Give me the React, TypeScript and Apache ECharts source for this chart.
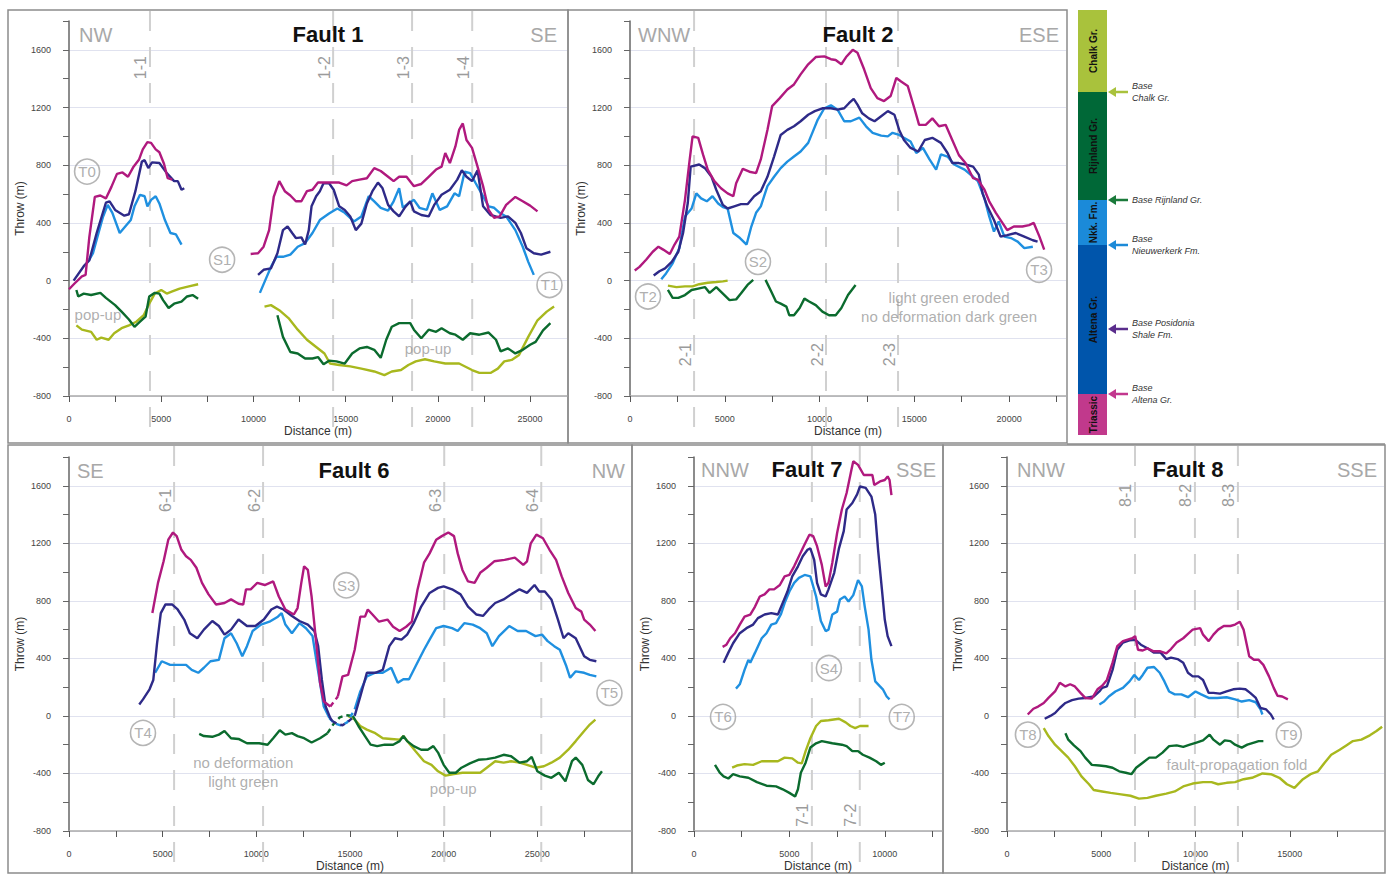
import React, { useEffect, useRef } from 'react';
import * as echarts from 'echarts';

const FONT = '"Liberation Sans", Arial, Helvetica, sans-serif';

// ---------- colours of the horizons ----------
const C_ALTENA = '#b0197e';
const C_POSIDONIA = '#2e2a88';
const C_NIEUWERKERK = '#1f90e0';
const C_RIJNLAND = '#0b6b2e';
const C_CHALK = '#a8b81e';

// ---------- Fault 1 ----------
const F1_ALTENA_A = [[0,-60],[300,-20],[700,30],[900,40],[1100,300],[1400,580],[1700,590],[2000,570],[2300,650],[2600,740],[2900,750],[3200,720],[3500,790],[3800,840],[4000,910],[4250,960],[4450,955],[4700,910],[4900,890],[5150,810],[5350,710],[5600,700]];
const F1_ALTENA_B = [[9850,185],[10250,190],[10550,235],[10850,350],[11100,580],[11400,690],[11700,620],[12000,590],[12300,550],[12600,550],[12900,620],[13200,630],[13500,680],[13900,680],[14300,680],[14650,680],[15050,660],[15350,690],[15750,700],[16150,710],[16550,780],[16900,760],[17300,720],[17600,690],[17900,720],[18300,720],[18700,655],[19100,670],[19500,720],[19900,770],[20200,790],[20400,885],[20650,815],[20950,930],[21150,1045],[21350,1090],[21550,975],[21850,920],[22150,790],[22450,655],[22750,490],[23050,435],[23350,445],[23700,525],[24200,580],[24600,550],[25000,520],[25400,480]];
const F1_POSIDONIA_A = [[250,0],[800,100],[1100,140],[1500,330],[2000,540],[2200,550],[2500,490],[3000,450],[3250,460],[3600,620],[3950,825],[4100,835],[4300,780],[4500,820],[4900,815],[5300,745],[5700,690],[5900,690],[6100,630],[6250,640]];
const F1_POSIDONIA_B = [[10250,40],[10550,75],[10950,85],[11300,190],[11600,350],[11850,375],[12100,330],[12300,295],[12600,300],[12800,250],[13000,350],[13150,515],[13400,585],[13600,620],[13800,675],[14100,675],[14350,630],[14650,515],[14950,490],[15250,445],[15550,350],[15850,395],[16150,535],[16450,620],[16750,680],[17000,640],[17300,525],[17600,480],[17900,445],[18200,505],[18500,550],[18700,480],[19100,455],[19500,445],[19800,525],[20200,595],[20650,630],[21050,700],[21300,765],[21550,720],[21850,690],[22150,765],[22450,515],[22850,455],[23400,435],[23800,445],[24200,400],[24500,330],[24800,225],[25200,190],[25600,180],[26100,200]];
const F1_NIEUWERKERK_A = [[1100,145],[1300,190],[1600,330],[1850,445],[2100,525],[2350,470],[2750,330],[3050,375],[3350,420],[3550,515],[3850,595],[4100,585],[4250,515],[4450,560],[4700,585],[4900,535],[5200,420],[5500,330],[5800,320],[6100,250]];
const F1_NIEUWERKERK_B = [[10350,-85],[10650,5],[10950,95],[11250,165],[11600,165],[12000,180],[12400,235],[12800,260],[13200,330],[13600,420],[14100,465],[14550,500],[14950,470],[15450,410],[15850,445],[16250,585],[16550,550],[16900,505],[17300,485],[17600,550],[17900,640],[18100,505],[18400,535],[18700,560],[19000,505],[19400,490],[19700,605],[20100,490],[20500,515],[20900,605],[21150,585],[21450,755],[21750,745],[22050,675],[22450,585],[22750,515],[23050,505],[23350,470],[23700,445],[24200,350],[24600,235],[24900,130],[25200,40]];
const F1_RIJNLAND_A = [[400,-65],[500,-110],[800,-90],[1200,-100],[1700,-85],[2000,-120],[2500,-170],[2850,-215],[3250,-270],[3550,-320],[3850,-285],[4150,-250],[4350,-110],[4650,-85],[4900,-90],[5100,-135],[5400,-190],[5700,-160],[6100,-145],[6400,-110],[6700,-100],[7000,-125]];
const F1_RIJNLAND_B = [[11300,-240],[11600,-390],[12000,-495],[12400,-505],[12800,-540],[13200,-540],[13500,-530],[13800,-580],[14100,-555],[14500,-560],[14950,-575],[15350,-505],[15750,-470],[16150,-460],[16550,-480],[16900,-535],[17200,-410],[17500,-320],[17900,-295],[18500,-295],[18700,-340],[19100,-400],[19500,-340],[19900,-355],[20200,-330],[20650,-365],[20950,-375],[21350,-410],[21750,-365],[22250,-375],[22750,-360],[23150,-410],[23400,-490],[23800,-470],[24200,-505],[24600,-480],[25000,-445],[25300,-425],[25700,-345],[26100,-295]];
const F1_CHALK_A = [[400,-310],[700,-340],[1200,-355],[1500,-410],[1750,-395],[2150,-410],[2450,-365],[2850,-330],[3250,-310],[3650,-285],[4050,-240],[4350,-160],[4650,-90],[5000,-65],[5300,-90],[5600,-75],[6000,-55],[6500,-40],[7000,-25]];
const F1_CHALK_B = [[10600,-180],[10950,-170],[11400,-205],[11900,-260],[12400,-340],[12900,-410],[13400,-460],[13850,-505],[14150,-575],[14650,-585],[15250,-595],[15850,-610],[16550,-630],[17100,-655],[17500,-630],[18000,-620],[18400,-585],[18800,-560],[19300,-545],[19800,-560],[20400,-575],[21150,-575],[21850,-620],[22250,-640],[22850,-640],[23250,-610],[23600,-560],[24000,-550],[24400,-515],[24900,-390],[25400,-275],[25900,-215],[26300,-180]];
const F1_SECTIONS = [4390, 14320, 18600, 21860];
const F1_SECTION_LABELS = ['1-1', '1-2', '1-3', '1-4'];

// ---------- Fault 2 ----------
const F2_ALTENA = [[250,70],[500,95],[850,145],[1200,200],[1500,235],[1750,215],[2100,185],[2350,250],[2600,305],[2900,560],[3150,840],[3300,1000],[3600,990],[3850,875],[4100,770],[4450,690],[4800,640],[5150,605],[5450,585],[5600,675],[5950,775],[6300,755],[6650,745],[6900,840],[7250,1045],[7500,1210],[7900,1265],[8300,1325],[8650,1360],[9000,1430],[9400,1500],[9800,1550],[10250,1555],[10600,1535],[10850,1530],[11150,1500],[11400,1550],[11750,1600],[12000,1580],[12350,1465],[12700,1335],[13050,1265],[13400,1245],[13750,1280],[14050,1405],[14300,1380],[14650,1350],[15000,1195],[15250,1080],[15600,1080],[15950,1125],[16300,1070],[16650,1080],[17000,975],[17350,870],[17700,815],[18100,710],[18350,700],[18700,630],[18950,550],[19300,470],[19550,420],[19900,350],[20250,375],[20700,375],[21050,385],[21300,400],[21600,305],[21850,215]];
const F2_POSIDONIA = [[1250,35],[1550,65],[1850,85],[2200,130],[2550,200],[2800,330],[3050,540],[3200,790],[3650,805],[3950,780],[4300,720],[4550,630],[4900,525],[5150,500],[5500,515],[5850,530],[6200,530],[6550,585],[6900,620],[7250,720],[7600,860],[7950,1010],[8300,1045],[8650,1070],[9000,1105],[9400,1150],[9750,1175],[10150,1195],[10600,1195],[10950,1185],[11300,1195],[11550,1230],[11800,1260],[12000,1220],[12250,1160],[12600,1125],[12900,1105],[13250,1140],[13600,1175],[13950,1150],[14200,1045],[14450,975],[14800,920],[15200,895],[15550,975],[15950,990],[16400,955],[16750,885],[17000,815],[17350,815],[17700,805],[18100,790],[18400,735],[18600,605],[18850,515],[19200,420],[19550,305],[19900,315],[20350,330],[20800,305],[21250,280],[21500,270]];
const F2_NIEUWERKERK = [[1650,10],[1900,50],[2250,120],[2600,225],[2900,445],[3250,500],[3500,605],[3750,570],[4050,550],[4350,585],[4650,535],[4900,510],[5150,500],[5450,330],[5800,295],[6150,250],[6400,375],[6650,470],[6900,515],[7250,655],[7600,720],[7950,780],[8300,825],[8650,860],[9000,895],[9400,955],[9650,1035],[9900,1115],[10250,1195],[10600,1215],[10950,1185],[11300,1105],[11650,1105],[12100,1130],[12450,1070],[12800,1025],[13250,1005],[13600,1000],[13850,1025],[14200,1010],[14450,990],[14800,965],[15100,885],[15450,920],[15800,840],[16150,770],[16400,875],[16750,860],[17100,805],[17650,770],[18100,720],[18350,690],[18700,570],[18950,445],[19200,340],[19450,410],[19750,305],[20100,295],[20450,270],[20800,225],[21250,235]];
const F2_RIJNLAND_A = [[2000,-65],[2250,-120],[2550,-120],[2900,-100],[3250,-65],[3600,-55],[3950,-45],[4200,-85],[4550,-45],[4900,-90],[5250,-135],[5600,-130],[5850,-90],[6200,-30],[6500,5]];
const F2_RIJNLAND_B = [[7150,5],[7450,-75],[7700,-145],[7950,-160],[8250,-180],[8400,-240],[8650,-240],[8950,-190],[9200,-125],[9450,-145],[9800,-170],[10150,-215],[10500,-240],[10850,-240],[11150,-190],[11500,-100],[11900,-30]];
const F2_CHALK = [[2000,-35],[2450,-45],[2900,-40],[3300,-40],[3650,-25],[4100,-15],[4550,-10],[4900,-5],[5150,0]];
const F2_SECTIONS = [3380, 10340, 14140];
const F2_SECTION_LABELS = ['2-1', '2-2', '2-3'];

// ---------- Fault 6 ----------
const F6_ALTENA_A = [[4450,715],[4750,925],[5050,1075],[5300,1225],[5550,1275],[5750,1250],[6000,1155],[6250,1110],[6500,1085],[6800,1030],[7100,925],[7450,845],[7850,775],[8300,785],[8650,810],[9050,780],[9300,775],[9450,880],[9700,880],[10050,925],[10450,910],[10900,935],[11200,830],[11550,740],[12000,705],[12200,750],[12400,925],[12550,1040],[12750,1015],[12950,830],[13200,505],[13400,230],[13600,100],[13950,65]];
const F6_ALTENA_GAP = [[13950,65],[14150,100],[14350,135]];
const F6_ALTENA_B = [[14350,135],[14600,275],[14900,285],[15250,460],[15550,690],[15800,690],[15950,740],[16200,705],[16550,655],[17000,670],[17300,620],[17650,590],[18000,620],[18300,655],[18600,875],[18950,1065],[19250,1130],[19600,1225],[19900,1250],[20250,1275],[20550,1250],[20750,1130],[21000,1015],[21300,935],[21650,925],[21950,995],[22300,1030],[22700,1075],[23250,1085],[23800,1100],[24250,1050],[24450,1075],[24650,1200],[24950,1260],[25300,1235],[25650,1155],[26000,1085],[26300,970],[26650,855],[27050,750],[27350,725],[27500,670],[27800,635],[28100,590]];
const F6_POSIDONIA_A = [[3750,80],[3950,115],[4300,185],[4500,250],[4700,505],[4900,715],[5150,775],[5500,775],[5800,740],[6150,670],[6450,575],[6850,540],[7200,600],[7650,660],[8000,625],[8300,565],[8650,600],[9050,670],[9500,625],[9950,625],[10400,670],[10800,740],[11100,760],[11450,740],[11900,695],[12300,660],[12750,635],[13100,590],[13300,485],[13500,250],[13700,65],[13950,-15],[14050,-35]];
const F6_POSIDONIA_GAP = [[14050,-35],[14300,-55],[14600,-65],[14900,-40],[15250,0]];
const F6_POSIDONIA_B = [[15250,0],[15550,135],[15900,300],[16350,300],[16750,320],[17100,485],[17400,540],[17750,530],[18050,565],[18400,645],[18800,760],[19250,855],[19700,890],[20000,900],[20450,880],[20900,845],[21300,760],[21750,705],[22100,695],[22400,740],[22750,785],[23200,810],[23600,845],[24050,880],[24450,855],[24850,910],[25100,865],[25400,865],[25750,810],[26100,670],[26400,540],[26650,575],[27050,540],[27500,415],[27800,390],[28150,380]];
const F6_NIEUWERKERK_A = [[4600,300],[4950,380],[5400,355],[5800,355],[6250,355],[6550,320],[6900,300],[7200,335],[7550,380],[8000,390],[8300,540],[8650,575],[8950,505],[9250,415],[9500,485],[9800,590],[10250,635],[10700,655],[11150,690],[11350,715],[11550,635],[11900,575],[12300,645],[12650,610],[13000,555],[13200,390],[13400,230],[13600,65],[13900,-15]];
const F6_NIEUWERKERK_GAP = [[13900,-15],[14150,-50],[14500,-65],[14850,-45],[15250,45]];
const F6_NIEUWERKERK_B = [[15250,45],[15550,170],[15900,275],[16350,300],[16750,300],[17200,335],[17550,230],[17850,255],[18150,255],[18500,345],[18950,460],[19250,530],[19600,610],[20000,625],[20450,610],[20750,590],[21100,645],[21550,635],[21950,610],[22300,575],[22600,485],[22950,555],[23500,625],[23950,590],[24400,590],[24900,555],[25250,565],[25550,520],[25900,485],[26200,460],[26550,345],[26750,265],[27050,310],[27500,300],[27800,285],[28150,275]];
const F6_RIJNLAND_A = [[6950,-125],[7200,-140],[7650,-145],[8000,-130],[8300,-105],[8650,-155],[9050,-160],[9500,-190],[10150,-190],[10600,-200],[10900,-155],[11250,-100],[11550,-130],[11900,-120],[12200,-140],[12550,-155],[12950,-185],[13400,-155],[13800,-120]];
const F6_RIJNLAND_GAP = [[13800,-120],[14100,-60],[14450,-10],[14800,5],[15150,0]];
const F6_RIJNLAND_B = [[15150,0],[15450,-70],[15800,-140],[16100,-200],[16450,-210],[16850,-200],[17300,-200],[17650,-175],[17850,-140],[18050,-175],[18400,-210],[18800,-235],[19150,-235],[19450,-210],[19700,-255],[20000,-340],[20300,-395],[20650,-395],[20950,-360],[21400,-330],[21850,-305],[22300,-300],[22750,-290],[23200,-270],[23600,-280],[24050,-325],[24450,-315],[24700,-285],[25000,-385],[25400,-415],[25750,-430],[26150,-395],[26500,-455],[26850,-315],[27050,-290],[27400,-340],[27700,-445],[28000,-475],[28250,-420],[28450,-385]];
const F6_CHALK = [[14900,0],[15250,-25],[15550,-70],[15900,-95],[16350,-120],[16750,-155],[17200,-160],[17650,-165],[17850,-140],[18150,-190],[18500,-245],[18950,-315],[19350,-340],[19700,-385],[20100,-415],[20550,-405],[21000,-395],[21550,-395],[21950,-395],[22300,-360],[22750,-315],[23200,-325],[23600,-315],[24050,-325],[24450,-340],[24900,-360],[25350,-350],[25750,-325],[26200,-290],[26650,-235],[27050,-175],[27500,-105],[27800,-60],[28100,-25]];
const F6_SECTIONS = [5610, 10360, 20030, 25210];
const F6_SECTION_LABELS = ['6-1', '6-2', '6-3', '6-4'];

// ---------- Fault 7 ----------
const F7_ALTENA = [[1500,480],[1700,495],[1900,540],[2150,575],[2400,635],[2650,690],[2950,705],[3200,760],[3450,830],[3700,845],[3950,880],[4200,880],[4500,910],[4750,970],[5000,980],[5250,1040],[5500,1110],[5750,1180],[6050,1260],[6250,1250],[6450,1180],[6700,1050],[6900,900],[7050,925],[7250,1065],[7500,1270],[7750,1435],[8000,1550],[8250,1710],[8350,1770],[8600,1745],[8900,1675],[9150,1675],[9350,1675],[9450,1605],[9750,1630],[10000,1640],[10150,1665],[10250,1640],[10350,1535]];
const F7_POSIDONIA = [[1550,370],[1800,440],[2050,505],[2400,575],[2750,610],[3100,635],[3350,680],[3700,705],[4050,715],[4400,705],[4650,785],[4900,865],[5150,970],[5450,1040],[5700,1110],[5950,1155],[6100,1165],[6300,1085],[6450,925],[6650,845],[6900,830],[7050,880],[7350,995],[7600,1165],[7850,1285],[8000,1435],[8300,1480],[8550,1540],[8700,1595],[9000,1585],[9300,1525],[9500,1400],[9650,1155],[9850,880],[10000,670],[10150,555],[10350,485]];
const F7_NIEUWERKERK = [[2200,190],[2400,220],[2650,320],[2850,390],[2950,370],[3200,440],[3550,540],[3800,575],[4050,635],[4300,645],[4550,705],[4750,785],[5000,865],[5250,925],[5500,960],[5800,980],[6100,970],[6400,830],[6650,660],[6900,590],[7050,600],[7250,705],[7500,725],[7650,810],[7900,830],[8100,795],[8350,840],[8600,945],[8800,900],[8950,760],[9150,600],[9300,390],[9500,240],[9750,205],[9900,185],[10100,135],[10250,115]];
const F7_RIJNLAND = [[1100,-340],[1350,-395],[1550,-420],[1800,-435],[2050,-405],[2400,-420],[2850,-430],[3300,-460],[3800,-485],[4300,-490],[4650,-510],[5000,-535],[5300,-560],[5450,-510],[5600,-395],[5850,-325],[6100,-220],[6400,-190],[6700,-175],[7250,-190],[7750,-200],[8000,-210],[8300,-245],[8600,-245],[8850,-270],[9200,-290],[9550,-315],[9800,-340],[10000,-325]];
const F7_CHALK = [[2000,-360],[2250,-345],[2650,-335],[3100,-340],[3550,-315],[3950,-315],[4400,-315],[4750,-290],[5150,-295],[5450,-325],[5650,-330],[5850,-245],[6100,-155],[6400,-70],[6650,-35],[7050,-30],[7600,-20],[7950,-45],[8200,-70],[8450,-85],[8700,-70],[9150,-70]];
const F7_SECTIONS = [6180, 8690];
const F7_SECTION_LABELS = ['7-1', '7-2'];

// ---------- Fault 8 ----------
const F8_ALTENA = [[1100,10],[1400,50],[1650,65],[1950,90],[2200,125],[2550,170],[2800,230],[3100,205],[3350,220],[3600,205],[3900,160],[4150,125],[4500,120],[4800,185],[5050,210],[5300,250],[5600,370],[5850,485],[6150,520],[6400,530],[6650,540],[6800,555],[6950,460],[7200,455],[7450,470],[7750,450],[8100,450],[8450,435],[8700,465],[9000,510],[9350,540],[9600,570],[9850,600],[10250,610],[10400,565],[10700,520],[10950,565],[11200,600],[11500,625],[11850,625],[12100,635],[12350,655],[12550,600],[12850,415],[13100,390],[13350,390],[13600,355],[13900,275],[14150,195],[14350,140],[14600,135],[14900,115]];
const F8_POSIDONIA = [[2000,-20],[2300,0],[2550,20],[2800,55],[3100,90],[3450,110],[3800,120],[4150,125],[4600,135],[4900,170],[5050,195],[5300,205],[5600,320],[5850,460],[6150,510],[6500,525],[6800,530],[7100,495],[7450,470],[7800,440],[8150,440],[8450,395],[8700,405],[9050,395],[9350,370],[9600,300],[9850,275],[10150,275],[10400,250],[10700,160],[10950,160],[11300,155],[11650,170],[12000,185],[12350,190],[12650,185],[12900,160],[13200,125],[13450,55],[13750,45],[14000,10],[14150,-25]];
const F8_NIEUWERKERK = [[4900,80],[5150,100],[5400,135],[5750,170],[6150,195],[6500,240],[6750,285],[7000,250],[7200,285],[7450,335],[7800,340],[8100,300],[8350,240],[8600,170],[8900,150],[9250,150],[9600,130],[10000,170],[10300,150],[10700,125],[11150,125],[11650,130],[12100,115],[12450,100],[12850,110],[13200,95],[13450,45],[13550,10]];
const F8_RIJNLAND = [[3100,-120],[3250,-165],[3550,-205],[3900,-245],[4150,-290],[4500,-340],[4900,-345],[5250,-350],[5600,-360],[5950,-385],[6300,-395],[6600,-405],[6850,-360],[7200,-325],[7550,-290],[7900,-290],[8250,-255],[8600,-210],[9000,-205],[9350,-215],[9700,-200],[10050,-185],[10400,-170],[10750,-130],[10950,-165],[11300,-200],[11550,-170],[11850,-175],[12100,-200],[12450,-220],[12750,-200],[13100,-185],[13350,-175],[13600,-175]];
const F8_CHALK = [[1950,-85],[2200,-140],[2550,-200],[2900,-245],[3250,-290],[3600,-350],[3950,-420],[4350,-475],[4600,-515],[5050,-525],[5500,-535],[6050,-545],[6550,-555],[7000,-575],[7450,-570],[7900,-555],[8450,-540],[8900,-525],[9350,-490],[9850,-470],[10400,-460],[10850,-460],[11200,-475],[11650,-465],[12100,-460],[12550,-440],[13000,-430],[13550,-400],[14000,-405],[14450,-430],[14850,-475],[15250,-500],[15700,-440],[16100,-405],[16500,-385],[16850,-325],[17200,-270],[17650,-235],[18000,-205],[18350,-175],[18800,-165],[19250,-135],[19600,-105],[19900,-75]];
const F8_SECTIONS = [6790, 9970, 12250];
const F8_SECTION_LABELS = ['8-1', '8-2', '8-3'];

// ---------- circled point labels and notes ----------
const F1_MARKERS = [{ name: 'T0', value: [980, 756] }, { name: 'S1', value: [8300, 145] }, { name: 'T1', value: [26050, -30] }];
const F2_MARKERS = [{ name: 'T2', value: [950, -110] }, { name: 'S2', value: [6750, 130] }, { name: 'T3', value: [21580, 75] }];
const F6_MARKERS = [{ name: 'T4', value: [3950, -118] }, { name: 'S3', value: [14800, 908] }, { name: 'T5', value: [28850, 160] }];
const F7_MARKERS = [{ name: 'T6', value: [1520, -7] }, { name: 'S4', value: [7070, 333] }, { name: 'T7', value: [10890, -7] }];
const F8_MARKERS = [{ name: 'T8', value: [1110, -130] }, { name: 'T9', value: [14950, -130] }];

const F1_NOTES = [{ name: 'pop-up', value: [1570, -235] }, { name: 'pop-up', value: [19470, -470] }];
const F2_NOTES = [{ name: 'light green eroded\nno deformation dark green', value: [16830, -185] }];
const F6_NOTES = [{ name: 'no deformation\nlight green', value: [9300, -390] }, { name: 'pop-up', value: [20510, -505] }];
const F7_NOTES: any[] = [];
const F8_NOTES = [{ name: 'fault-propagation fold', value: [12200, -335] }];

// ---------- axis ticks ----------
const Y_MIN = -800;
const Y_MAX = 1800;
const Y_STEP = 200;
const Y_LABEL_STEP = 400;
const X_STEP = 2500;
const X_LABEL_STEP = 5000;

// ---------- layout ----------
const PANELS = [
  { title: 'Fault 1', left: 'NW', right: 'SE', grid: { left: 69, top: 21, width: 498, height: 375 }, xMax: 27000, frame: [8, 10, 560, 433], titleX: 328, titleY: 34, dirL: 79, dirR: 557,
    sections: F1_SECTIONS, sectionLabels: F1_SECTION_LABELS, sectionY: 1477, markers: F1_MARKERS, notes: F1_NOTES,
    lines: [[F1_CHALK_A, C_CHALK], [F1_CHALK_B, C_CHALK], [F1_RIJNLAND_A, C_RIJNLAND], [F1_RIJNLAND_B, C_RIJNLAND], [F1_NIEUWERKERK_A, C_NIEUWERKERK], [F1_NIEUWERKERK_B, C_NIEUWERKERK], [F1_POSIDONIA_A, C_POSIDONIA], [F1_POSIDONIA_B, C_POSIDONIA], [F1_ALTENA_A, C_ALTENA], [F1_ALTENA_B, C_ALTENA]] },
  { title: 'Fault 2', left: 'WNW', right: 'ESE', grid: { left: 630, top: 21, width: 436, height: 375 }, xMax: 23000, frame: [568, 10, 499, 433], titleX: 858, titleY: 34, dirL: 638, dirR: 1059,
    sections: F2_SECTIONS, sectionLabels: F2_SECTION_LABELS, sectionY: -513, markers: F2_MARKERS, notes: F2_NOTES,
    lines: [[F2_CHALK, C_CHALK], [F2_RIJNLAND_A, C_RIJNLAND], [F2_RIJNLAND_B, C_RIJNLAND], [F2_NIEUWERKERK, C_NIEUWERKERK], [F2_POSIDONIA, C_POSIDONIA], [F2_ALTENA, C_ALTENA]] },
  { title: 'Fault 6', left: 'SE', right: 'NW', grid: { left: 69, top: 457, width: 562, height: 374 }, xMax: 30000, frame: [8, 445, 624, 428], titleX: 354, titleY: 470, dirL: 77, dirR: 625,
    sections: F6_SECTIONS, sectionLabels: F6_SECTION_LABELS, sectionY: 1498, markers: F6_MARKERS, notes: F6_NOTES,
    lines: [[F6_CHALK, C_CHALK], [F6_RIJNLAND_A, C_RIJNLAND], [F6_RIJNLAND_GAP, C_RIJNLAND, true], [F6_RIJNLAND_B, C_RIJNLAND], [F6_NIEUWERKERK_A, C_NIEUWERKERK], [F6_NIEUWERKERK_GAP, C_NIEUWERKERK, true], [F6_NIEUWERKERK_B, C_NIEUWERKERK], [F6_POSIDONIA_A, C_POSIDONIA], [F6_POSIDONIA_GAP, C_POSIDONIA, true], [F6_POSIDONIA_B, C_POSIDONIA], [F6_ALTENA_A, C_ALTENA], [F6_ALTENA_GAP, C_ALTENA, true], [F6_ALTENA_B, C_ALTENA]] },
  { title: 'Fault 7', left: 'NNW', right: 'SSE', grid: { left: 694, top: 457, width: 248, height: 374 }, xMax: 13000, frame: [632, 445, 311, 428], titleX: 807, titleY: 469, dirL: 701, dirR: 936,
    sections: F7_SECTIONS, sectionLabels: F7_SECTION_LABELS, sectionY: -690, markers: F7_MARKERS, notes: F7_NOTES,
    lines: [[F7_CHALK, C_CHALK], [F7_RIJNLAND, C_RIJNLAND], [F7_NIEUWERKERK, C_NIEUWERKERK], [F7_POSIDONIA, C_POSIDONIA], [F7_ALTENA, C_ALTENA]] },
  { title: 'Fault 8', left: 'NNW', right: 'SSE', grid: { left: 1007, top: 457, width: 377, height: 374 }, xMax: 20000, frame: [943, 445, 442, 428], titleX: 1188, titleY: 469, dirL: 1017, dirR: 1377,
    sections: F8_SECTIONS, sectionLabels: F8_SECTION_LABELS, sectionY: 1533, markers: F8_MARKERS, notes: F8_NOTES,
    lines: [[F8_CHALK, C_CHALK], [F8_RIJNLAND, C_RIJNLAND], [F8_NIEUWERKERK, C_NIEUWERKERK], [F8_POSIDONIA, C_POSIDONIA], [F8_ALTENA, C_ALTENA]] },
];

// ---------- stratigraphic column ----------
const STRAT_UNITS = [
  { name: 'Chalk Gr.', color: '#a9c23c', y0: 10, y1: 92 },
  { name: 'Rijnland Gr.', color: '#006837', y0: 92, y1: 200 },
  { name: 'Nkk. Fm.', color: '#1b8ad9', y0: 200, y1: 245 },
  { name: 'Altena Gr.', color: '#0055ab', y0: 245, y1: 394 },
  { name: 'Triassic', color: '#c1398c', y0: 394, y1: 435 },
];
const STRAT_ARROWS = [
  { y: 92, color: '#a9c23c', text: 'Base\nChalk Gr.' },
  { y: 200, color: '#1a7a3a', text: 'Base Rijnland Gr.' },
  { y: 245, color: '#1c8ad8', text: 'Base\nNieuwerkerk Fm.' },
  { y: 329, color: '#5a2d8c', text: 'Base Posidonia\nShale Fm.' },
  { y: 394, color: '#c2378e', text: 'Base\nAltena Gr.' },
];

function textStyle(text: string, size: number, fill: string, align: string, extra: any = {}) {
  return { text, fontSize: size, fill, fontFamily: FONT, textAlign: align, align, textVerticalAlign: 'middle', verticalAlign: 'middle', ...extra };
}

export default function App() {
  const ref = useRef<HTMLDivElement>(null);
  useEffect(() => {
    if (!ref.current) return;
    const chart = echarts.init(ref.current, null, { renderer: 'svg' });
    const grids: any[] = [];
    const xAxes: any[] = [];
    const yAxes: any[] = [];
    const series: any[] = [];
    PANELS.forEach((p, i) => {
      grids.push({ ...p.grid, containLabel: false });
      xAxes.push({
        gridIndex: i, type: 'value', min: 0, max: p.xMax, interval: X_STEP,
        name: 'Distance (m)', nameLocation: 'middle', nameGap: 29,
        nameTextStyle: { fontSize: 12, color: '#333', fontFamily: FONT },
        axisLine: { show: true, onZero: false, lineStyle: { color: '#aaaaaa', width: 1.5 } },
        axisTick: { show: true, length: 6, lineStyle: { color: '#555' } },
        axisLabel: { fontSize: 9, color: '#444', margin: 18, fontFamily: FONT, showMaxLabel: false,
          formatter: (v: number) => (v % X_LABEL_STEP === 0 && v < p.xMax ? String(v) : '') },
        splitLine: { show: false },
      });
      yAxes.push({
        gridIndex: i, type: 'value', min: Y_MIN, max: Y_MAX, interval: Y_STEP,
        name: 'Throw (m)', nameLocation: 'middle', nameGap: 43, nameRotate: 90,
        nameTextStyle: { fontSize: 12, color: '#333', fontFamily: FONT },
        axisLine: { show: true, onZero: false, lineStyle: { color: '#666', width: 1.5 } },
        axisTick: { show: true, length: 6, lineStyle: { color: '#666' } },
        axisLabel: { fontSize: 9, color: '#444', margin: 18, fontFamily: FONT,
          formatter: (v: number) => (v % Y_LABEL_STEP === 0 && v < Y_MAX ? String(v) : '') },
        splitLine: { show: true, showMinLine: true, showMaxLine: true, lineStyle: { color: ['#e0e2ef', 'rgba(0,0,0,0)'], width: 1.2 } },
      });
      p.lines.forEach((ln: any) => {
        series.push({
          type: 'line', xAxisIndex: i, yAxisIndex: i, data: ln[0], showSymbol: false, symbol: 'none',
          lineStyle: { color: ln[1], width: 2.4, type: ln[2] ? [5, 4] : 'solid' }, itemStyle: { color: ln[1] },
          silent: true, z: 3,
        });
      });
      series.push({
        type: 'scatter', xAxisIndex: i, yAxisIndex: i, data: p.markers, symbol: 'circle', symbolSize: 25,
        itemStyle: { color: 'rgba(255,255,255,0)', borderColor: '#a3a3a3', borderWidth: 1.6 },
        label: { show: true, position: 'inside', formatter: '{b}', color: '#9a9a9a', fontSize: 15, fontFamily: FONT },
        silent: true, z: 4,
      });
      series.push({
        type: 'scatter', xAxisIndex: i, yAxisIndex: i, data: p.notes, symbolSize: 0,
        label: { show: true, position: 'inside', formatter: '{b}', color: '#9a9a9a', fontSize: 15, lineHeight: 19, fontFamily: FONT, align: 'center' },
        silent: true, z: 4,
      });
    });
    chart.setOption({
      animation: false,
      backgroundColor: '#ffffff',
      textStyle: { fontFamily: FONT },
      grid: grids, xAxis: xAxes, yAxis: yAxes, series,
    });

    const g: any[] = [];
    PANELS.forEach((p, i) => {
      const [fx, fy, fw, fh] = p.frame;
      g.push({ type: 'rect', silent: true, z: 0, shape: { x: fx, y: fy, width: fw, height: fh }, style: { fill: 'rgba(0,0,0,0)', stroke: '#8c8c8c', lineWidth: 1.5 } });
      p.sections.forEach((sx: number, j: number) => {
        const pt = chart.convertToPixel({ gridIndex: i } as any, [sx, p.sectionY]) as number[];
        g.push({ type: 'line', silent: true, z: 1, shape: { x1: pt[0], y1: fy + 1, x2: pt[0], y2: fy + fh - 1 }, style: { stroke: '#d0d0d0', lineWidth: 2, lineDash: [20, 16] } });
        g.push({ type: 'text', silent: true, z: 5, x: pt[0] - 9, y: pt[1], rotation: Math.PI / 2, style: textStyle(p.sectionLabels[j], 16, '#9b9b9b', 'center') });
      });
      g.push({ type: 'text', silent: true, z: 5, x: p.titleX, y: p.titleY, style: textStyle(p.title, 22, '#111', 'center', { fontWeight: 'bold' }) });
      g.push({ type: 'text', silent: true, z: 5, x: p.dirL, y: p.titleY + 1, style: textStyle(p.left, 20, '#a8a8a8', 'left') });
      g.push({ type: 'text', silent: true, z: 5, x: p.dirR, y: p.titleY + 1, style: textStyle(p.right, 20, '#a8a8a8', 'right') });
    });
    g.push({ type: 'line', silent: true, z: 0, shape: { x1: 1067, y1: 444, x2: 1385, y2: 444 }, style: { stroke: '#8c8c8c', lineWidth: 1.5 } });
    STRAT_UNITS.forEach((u) => {
      g.push({ type: 'rect', silent: true, z: 1, shape: { x: 1078, y: u.y0, width: 29, height: u.y1 - u.y0 }, style: { fill: u.color } });
      g.push({ type: 'text', silent: true, z: 2, x: 1093, y: (u.y0 + u.y1) / 2, rotation: Math.PI / 2, style: textStyle(u.name, 10, '#111', 'center', { fontWeight: 'bold' }) });
    });
    STRAT_ARROWS.forEach((a) => {
      g.push({ type: 'line', silent: true, z: 2, shape: { x1: 1113, y1: a.y, x2: 1128, y2: a.y }, style: { stroke: a.color, lineWidth: 2.5 } });
      g.push({ type: 'polygon', silent: true, z: 2, shape: { points: [[1108, a.y], [1116, a.y - 5], [1116, a.y + 5]] }, style: { fill: a.color } });
      g.push({ type: 'text', silent: true, z: 2, x: 1132, y: a.y, style: textStyle(a.text, 9, '#333', 'left', { fontStyle: 'italic', lineHeight: 12 }) });
    });
    chart.setOption({ graphic: g });
    return () => chart.dispose();
  }, []);
  return <div ref={ref} style={{ position: 'absolute', left: 0, top: 0, width: 1387, height: 875, background: '#fff' }} />;
}
